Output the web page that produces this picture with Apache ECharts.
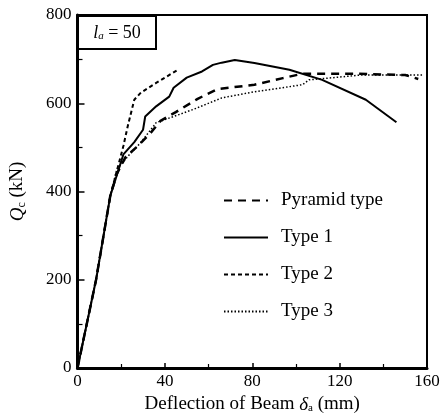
<!DOCTYPE html>
<html><head><meta charset="utf-8">
<script src="https://cdn.jsdelivr.net/npm/echarts@6/dist/echarts.min.js"></script>
<style>html,body{margin:0;padding:0;background:#fff}#c{width:444px;height:419px}</style>
</head><body><div id="c"></div>
<script>
var seriesNames = ['Pyramid type', 'Type 1', 'Type 2', 'Type 3'];
var pyramid = [[0,0],[8.5,200],[15,390],[18,440],[22,478],[28,505],[33,530],[38,560],[45,580],[55,610],[64,632],[81,642],[94,657],[103,667],[127,667],[150,664],[156,655]];
var type1 = [[0,0],[8.5,200],[15,390],[21,484],[26,512],[30,540],[31,570],[36,593],[42,615],[44,635],[50,658],[57,672],[62,687],[66,692],[72,698],[81,691],[97,676],[112,653],[132,608],[146,557]];
var type2 = [[0,0],[8.5,200],[15,390],[21,503],[23,548],[26,608],[29,624],[36,646],[46,676]];
var type3 = [[0,0],[8.5,200],[15,390],[18,450],[24,485],[29,511],[36,556],[44,570],[53,586],[62,604],[66,612],[81,626],[103,642],[106,653],[130,664],[158,664]];
var xTicks = [0, 40, 80, 120, 160];
var yTicks = [0, 200, 400, 600, 800];

var FONT = 'Liberation Serif';
var chart = echarts.init(document.getElementById('c'));
function mk(name, data, width, type) {
  return {name: name, type: 'line', data: data, symbol: 'none', smooth: false,
    lineStyle: {color: '#000', width: width, type: type}, itemStyle: {color: '#000'}};
}
chart.setOption({
  animation: false,
  backgroundColor: '#fff',
  grid: {left: 77, right: 17, top: 15, bottom: 49, show: true, borderColor: '#000', borderWidth: 2, backgroundColor: 'transparent'},
  xAxis: {type: 'value', min: 0, max: 160, interval: 40,
    axisLine: {show: true, onZero: false, lineStyle: {color: '#000', width: 3}},
    axisTick: {show: true, inside: true, length: 5, lineStyle: {color: '#000', width: 1.5}},
    minorTick: {show: true, splitNumber: 2, length: 4, lineStyle: {color: '#000', width: 1.2}},
    splitLine: {show: false},
    axisLabel: {color: '#000', fontFamily: FONT, fontSize: 17, margin: 5,
      formatter: function(v){ return xTicks.indexOf(v) >= 0 ? String(v) : ''; }},
    name: '{n|Deflection of Beam }{d|δ}{s|a}{n| (mm)}', nameLocation: 'middle', nameGap: 27,
    nameTextStyle: {rich: {
      n: {fontFamily: FONT, fontSize: 19, color: '#000'},
      d: {fontFamily: FONT, fontSize: 19, fontStyle: 'italic', color: '#000'},
      s: {fontFamily: FONT, fontSize: 11, color: '#000', verticalAlign: 'bottom', padding: [8,0,0,0]}
    }}
  },
  yAxis: {type: 'value', min: 0, max: 800, interval: 200,
    axisLine: {show: true, onZero: false, lineStyle: {color: '#000', width: 3}},
    axisTick: {show: true, inside: true, length: 7, lineStyle: {color: '#000', width: 1.5}},
    minorTick: {show: true, splitNumber: 2, length: 5, lineStyle: {color: '#000', width: 1.2}},
    splitLine: {show: false},
    axisLabel: {color: '#000', fontFamily: FONT, fontSize: 17, margin: 6,
      formatter: function(v){ return yTicks.indexOf(v) >= 0 ? String(v) : ''; }},
    name: '{q|Q}{s|c}{n| (kN)}', nameLocation: 'middle', nameGap: 50, nameRotate: 90,
    nameTextStyle: {rich: {
      q: {fontFamily: FONT, fontSize: 19, fontStyle: 'italic', color: '#000'},
      n: {fontFamily: FONT, fontSize: 19, color: '#000'},
      s: {fontFamily: FONT, fontSize: 12, color: '#000', verticalAlign: 'bottom', padding: [8,0,0,0]}
    }}
  },
  legend: {orient: 'vertical', left: 218, top: 186, itemWidth: 44, itemHeight: 14, itemGap: 18,
    itemStyle: {color: 'rgba(0,0,0,0)', borderColor: 'rgba(0,0,0,0)', borderWidth: 0},
    textStyle: {fontFamily: FONT, fontSize: 19, color: '#000', padding: [0,0,0,8]},
    data: seriesNames
  },
  graphic: [{
    type: 'group', left: 77, top: 15, children: [
      {type: 'rect', shape: {x: 0, y: 0, width: 78, height: 33}, style: {fill: '#fff', stroke: '#000', lineWidth: 2}},
      {type: 'text', x: 39, y: 17, style: {
        text: '{i|l}{s|a}{n| = 50}', align: 'center', verticalAlign: 'middle',
        rich: {
          i: {fontFamily: FONT, fontSize: 18, fontStyle: 'italic', fill: '#000'},
          s: {fontFamily: FONT, fontSize: 11, fontStyle: 'italic', fill: '#000', verticalAlign: 'bottom', padding: [7,0,0,0]},
          n: {fontFamily: FONT, fontSize: 18, fill: '#000'}
        }}}
    ]
  }],
  series: [
    mk(seriesNames[0], pyramid, 2.5, [8, 6]),
    mk(seriesNames[1], type1, 2, 'solid'),
    mk(seriesNames[2], type2, 2, [4, 3]),
    mk(seriesNames[3], type3, 1.5, [1.5, 2])
  ]
});
</script></body></html>
